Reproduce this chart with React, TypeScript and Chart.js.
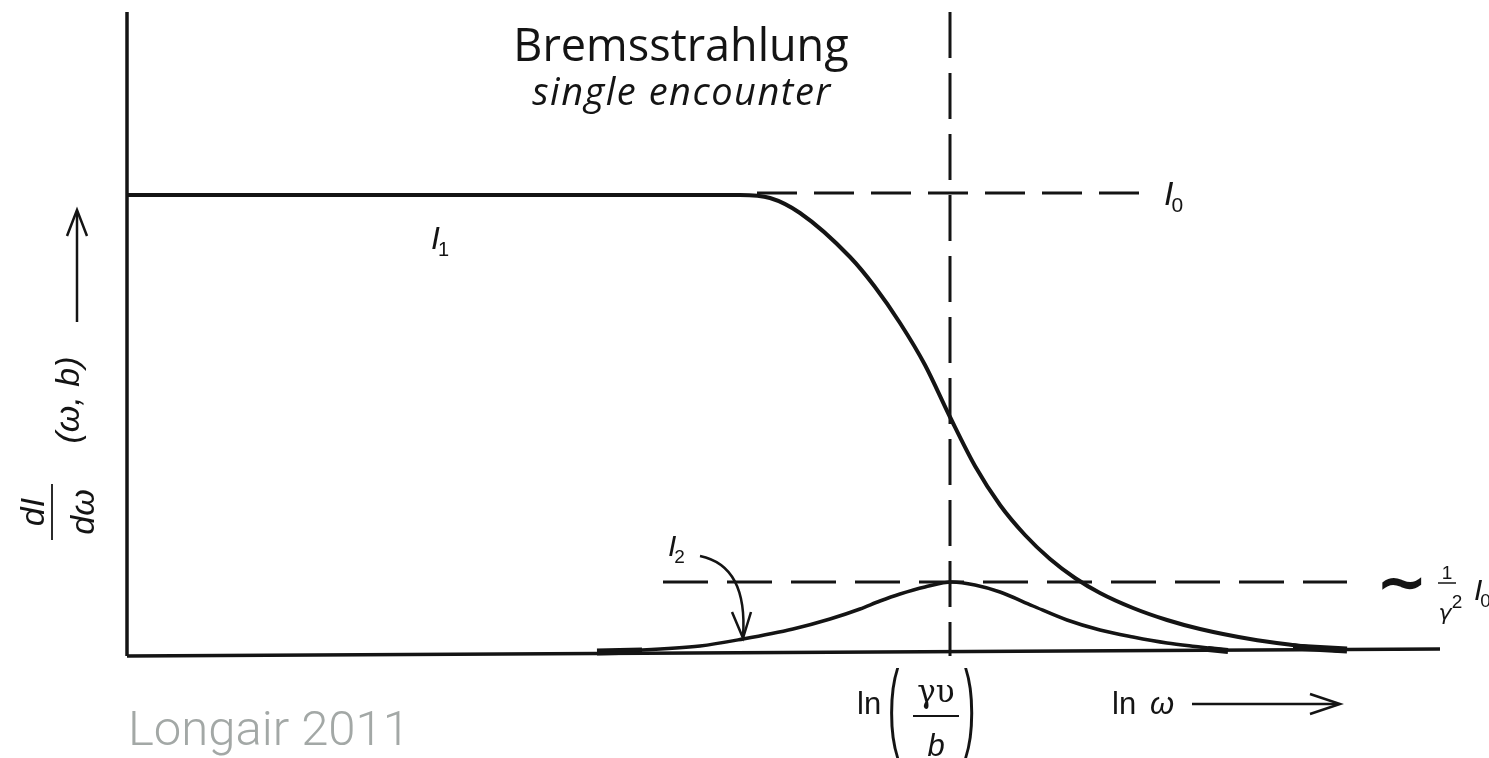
import React, { useEffect, useRef } from "react";
import { Chart, registerables } from "chart.js";

Chart.register(...registerables);

// Horizontal axis: ln ω in arbitrary units; vertical axis: dI/dω in arbitrary units
const X_MAX = 13.13;
const Y_MAX = 6.44;

// Total spectrum I1 of a single encounter
const i1X = [0, 6.13, 6.43, 6.73, 7.23, 7.48, 7.73, 7.98, 8.23, 8.48, 8.73, 8.98, 9.23, 9.48, 9.73, 10.06, 10.4, 10.73, 11.23, 11.73, 12.13];
const i1Y = [4.61, 4.61, 4.58, 4.43, 3.99, 3.69, 3.33, 2.91, 2.39, 1.9, 1.51, 1.21, 0.97, 0.78, 0.63, 0.48, 0.36, 0.27, 0.17, 0.1, 0.05];

// Second component I2 (the bump around ln(γv/b))
const i2X = [4.7, 5.15, 5.73, 6.16, 6.66, 7.03, 7.33, 7.53, 7.73, 7.98, 8.25, 8.48, 8.73, 9.06, 9.4, 9.73, 10.06, 10.4, 10.73, 10.98];
const i2Y = [0.05, 0.06, 0.1, 0.17, 0.27, 0.37, 0.47, 0.55, 0.62, 0.69, 0.74, 0.71, 0.64, 0.5, 0.36, 0.26, 0.19, 0.13, 0.09, 0.06];

// Reference levels
const I0_LEVEL = 4.63;
const I0_LINE_X = [6.3, 10.21];
const HALF_LEVEL = 0.74;
const HALF_LINE_X = [5.36, 12.2];
const CHARACTERISTIC_X = 8.23; // ln(γv/b)

// Inked end strokes where the curves meet the axis
const tailI2LeftX = [4.7, 5.15];
const tailI2LeftY = [0.04, 0.05];
const tailI2RightX = [10.81, 11.01];
const tailI2RightY = [0.07, 0.05];
const tailI1RightX = [11.66, 12.2];
const tailI1RightY = [0.09, 0.06];

// Axis baseline (slightly tilted in the printed figure)
const axisX = [0, X_MAX];
const axisY = [0, 0.07];

const pts = (xs: number[], ys: number[]) => xs.map((x, i) => ({ x, y: ys[i] }));

const INK = "#141414";

const annotations = {
  id: "annotations",
  afterDraw(chart: any) {
    const { ctx } = chart;
    const xs = chart.scales.x;
    const ys = chart.scales.y;
    ctx.save();
    ctx.fillStyle = INK;
    ctx.strokeStyle = INK;
    ctx.textBaseline = "alphabetic";

    // Title
    ctx.textAlign = "center";
    ctx.font = "45px 'Open Sans'";
    ctx.fillText("Bremsstrahlung", 681, 61);
    ctx.font = "italic 38px 'Open Sans'";
    const subtitle = "single encounter";
    const natural = ctx.measureText(subtitle).width;
    ctx.letterSpacing = `${Math.max(0, Math.min(1.5, (307 - natural) / (subtitle.length - 1)))}px`;
    ctx.textAlign = "center";
    ctx.fillText(subtitle, 682, 105);
    ctx.letterSpacing = "0px";

    // Source credit
    ctx.textAlign = "left";
    ctx.fillStyle = "#a3a8a6";
    ctx.font = "300 49px Roboto";
    ctx.fillText("Longair 2011", 128, 745);
    ctx.fillStyle = INK;

    const sub = (main: string, s: string, x: number, y: number, size: number) => {
      ctx.textAlign = "left";
      ctx.font = `italic ${size}px 'Liberation Sans'`;
      ctx.fillText(main, x, y);
      const w = ctx.measureText(main).width;
      ctx.font = `${Math.round(size * 0.62)}px 'Liberation Sans'`;
      ctx.fillText(s, x + w - 2, y + size * 0.22);
    };

    // Curve labels
    sub("I", "0", xs.getPixelForValue(I0_LINE_X[1]) + 16, ys.getPixelForValue(I0_LEVEL) + 12, 34);
    sub("I", "1", 431, 249, 32);
    sub("I", "2", 668, 556, 30);

    // Curved pointer from I2 label to its curve
    ctx.lineWidth = 2.5;
    ctx.beginPath();
    ctx.moveTo(700, 556);
    ctx.quadraticCurveTo(748, 566, 743, 637);
    ctx.stroke();
    ctx.beginPath();
    ctx.moveTo(732, 612);
    ctx.lineTo(743, 638);
    ctx.lineTo(751, 612);
    ctx.stroke();

    // Half-level label: ~ (1/γ²) I0
    const hy = ys.getPixelForValue(HALF_LEVEL);
    ctx.font = "bold 62px 'DejaVu Sans'";
    ctx.textAlign = "left";
    ctx.fillText("∼", 1376, hy + 21);
    ctx.textAlign = "center";
    ctx.font = "19px 'Liberation Sans'";
    ctx.fillText("1", 1447, hy - 3);
    ctx.lineWidth = 1.5;
    ctx.beginPath();
    ctx.moveTo(1438, hy + 1);
    ctx.lineTo(1456, hy + 1);
    ctx.stroke();
    ctx.font = "italic 22px 'DejaVu Sans'";
    ctx.fillText("γ", 1445, hy + 38);
    ctx.font = "19px 'Liberation Sans'";
    ctx.fillText("2", 1457, hy + 26);
    sub("I", "0", 1474, hy + 18, 30);

    // x-axis labels: ln(γv/b) and ln ω →
    const cx = xs.getPixelForValue(CHARACTERISTIC_X);
    ctx.textAlign = "left";
    ctx.font = "31px 'Liberation Sans'";
    ctx.fillText("ln", cx - 93, 714);
    ctx.font = "34px 'Liberation Sans'";
    ctx.save();
    ctx.translate(cx - 62, 738);
    ctx.scale(1, 2.85);
    ctx.fillText("(", 0, 0);
    ctx.restore();
    ctx.save();
    ctx.translate(cx + 14, 738);
    ctx.scale(1, 2.85);
    ctx.fillText(")", 0, 0);
    ctx.restore();
    ctx.textAlign = "center";
    ctx.font = "31px 'DejaVu Serif'";
    ctx.fillText("γυ", cx - 14, 702);
    ctx.lineWidth = 1.8;
    ctx.beginPath();
    ctx.moveTo(cx - 37, 716);
    ctx.lineTo(cx + 9, 716);
    ctx.stroke();
    ctx.font = "italic 31px 'Liberation Sans'";
    ctx.fillText("b", cx - 14, 756);

    ctx.textAlign = "left";
    ctx.font = "31px 'Liberation Sans'";
    ctx.fillText("ln", 1112, 714);
    ctx.font = "italic 31px 'Liberation Sans'";
    ctx.fillText("ω", 1150, 714);
    ctx.lineWidth = 2.5;
    ctx.beginPath();
    ctx.moveTo(1192, 704);
    ctx.lineTo(1338, 704);
    ctx.stroke();
    ctx.beginPath();
    ctx.moveTo(1310, 694);
    ctx.lineTo(1340, 704);
    ctx.lineTo(1310, 714);
    ctx.stroke();

    // y-axis label, rotated: dI/dω (ω, b) →
    ctx.save();
    ctx.translate(50, 512);
    ctx.rotate(-Math.PI / 2);
    ctx.textAlign = "center";
    ctx.font = "italic 34px 'Liberation Sans'";
    ctx.fillText("dI", 0, -6);
    ctx.fillText("dω", 0, 44);
    ctx.lineWidth = 1.8;
    ctx.beginPath();
    ctx.moveTo(-28, 2);
    ctx.lineTo(28, 2);
    ctx.stroke();
    ctx.font = "italic 34px 'Liberation Sans'";
    ctx.fillText("(ω, b)", 112, 29);
    ctx.lineWidth = 2.5;
    ctx.beginPath();
    ctx.moveTo(190, 27);
    ctx.lineTo(300, 27);
    ctx.stroke();
    ctx.beginPath();
    ctx.moveTo(276, 17);
    ctx.lineTo(302, 27);
    ctx.lineTo(276, 37);
    ctx.stroke();
    ctx.restore();

    ctx.restore();
  },
};

export default function App() {
  const ref = useRef<HTMLCanvasElement>(null);

  useEffect(() => {
    if (!ref.current) return;
    const solid = (data: { x: number; y: number }[], width: number) => ({
      data,
      borderColor: INK,
      borderWidth: width,
      pointRadius: 0,
      showLine: true,
      fill: false,
      clip: false as const,
      cubicInterpolationMode: "monotone" as const,
    });
    const dashed = (data: { x: number; y: number }[], dash: number[]) => ({
      data,
      borderColor: INK,
      borderWidth: 3,
      borderDash: dash,
      pointRadius: 0,
      showLine: true,
      fill: false,
      clip: false as const,
    });

    const chart = new Chart(ref.current, {
      type: "scatter",
      data: {
        datasets: [
          solid(pts(axisX, axisY), 3.5),
          solid([{ x: 0, y: 0 }, { x: 0, y: Y_MAX }], 3.5),
          dashed(pts(I0_LINE_X, [I0_LEVEL, I0_LEVEL]), [40, 17]),
          dashed(pts(HALF_LINE_X, [HALF_LEVEL, HALF_LEVEL]), [45, 19]),
          dashed(pts([CHARACTERISTIC_X, CHARACTERISTIC_X], [Y_MAX, 0]), [46, 15]),
          solid(pts(i1X, i1Y), 4),
          solid(pts(i2X, i2Y), 3.5),
          solid(pts(tailI2LeftX, tailI2LeftY), 7),
          solid(pts(tailI2RightX, tailI2RightY), 6),
          solid(pts(tailI1RightX, tailI1RightY), 7),
        ],
      },
      options: {
        animation: false,
        responsive: true,
        maintainAspectRatio: false,
        layout: { padding: { left: 127, right: 49, top: 12, bottom: 102 } },
        plugins: { legend: { display: false }, tooltip: { enabled: false } },
        scales: {
          x: { type: "linear", min: 0, max: X_MAX, display: false },
          y: { type: "linear", min: 0, max: Y_MAX, display: false },
        },
      },
      plugins: [annotations],
    });
    return () => chart.destroy();
  }, []);

  return (
    <div style={{ position: "absolute", left: 0, top: 0, width: 1489, height: 758, background: "#fff" }}>
      <canvas ref={ref} />
    </div>
  );
}
